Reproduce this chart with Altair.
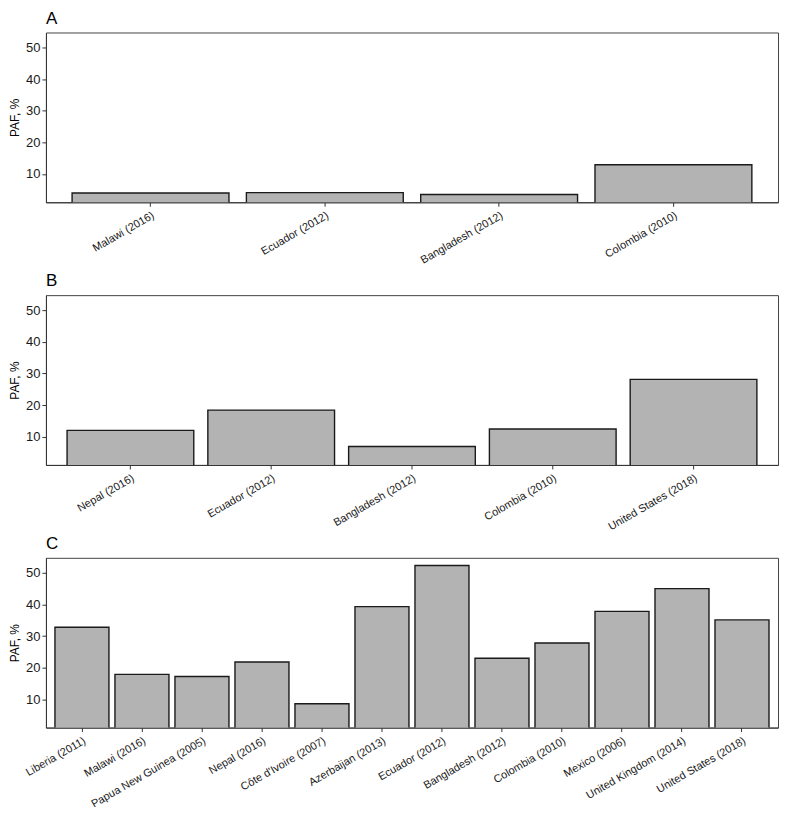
import altair as alt
import pandas as pd

a_countries = ["Malawi (2016)", "Ecuador (2012)", "Bangladesh (2012)", "Colombia (2010)"]
a_values = [4.0, 4.1, 3.5, 12.9]

b_countries = ["Nepal (2016)", "Ecuador (2012)", "Bangladesh (2012)", "Colombia (2010)",
               "United States (2018)"]
b_values = [12.0, 18.4, 6.9, 12.4, 28.1]

c_countries = ["Liberia (2011)", "Malawi (2016)", "Papua New Guinea (2005)", "Nepal (2016)",
               "Côte d'Ivoire (2007)", "Azerbaijan (2013)", "Ecuador (2012)", "Bangladesh (2012)",
               "Colombia (2010)", "Mexico (2006)", "United Kingdom (2014)", "United States (2018)"]
c_values = [32.8, 17.9, 17.2, 21.8, 8.6, 39.3, 52.3, 23.0, 27.8, 37.8, 45.0, 35.1]

y_ticks = [10, 20, 30, 40, 50]
y_domain = [1.06, 54.74]

FONT = "Liberation Sans"


def panel(countries, values, letter):
    df = pd.DataFrame({"country": countries, "paf": values})
    return (
        alt.Chart(
            df,
            title=alt.Title(letter, anchor="start", frame="group", fontSize=17,
                            fontWeight="normal", font=FONT, color="#000000", offset=5),
        )
        .mark_bar(fill="#B3B3B3", stroke="#1a1a1a", strokeWidth=1.4, clip=True)
        .encode(
            x=alt.X("country:N", sort=None, title=None,
                    scale=alt.Scale(paddingInner=0.1, paddingOuter=0.15),
                    axis=alt.Axis(labelAngle=330, labelAlign="right", labelBaseline="top",
                                  labelFontSize=11, labelPadding=3, tickSize=4,
                                  labelColor="#1a1a1a", labelOverlap=False)),
            y=alt.Y("paf:Q", title="PAF, %",
                    scale=alt.Scale(domain=y_domain, zero=False, nice=False),
                    axis=alt.Axis(values=y_ticks, grid=False, labelFontSize=13,
                                  titleFontSize=12, tickSize=4, labelPadding=2,
                                  titlePadding=4, labelColor="#1a1a1a",
                                  titleColor="#000000", titleFontWeight="normal")),
            y2=alt.datum(0),
        )
        .properties(width=733, height=170)
    )


chart = (
    alt.vconcat(
        panel(a_countries, a_values, "A"),
        panel(b_countries, b_values, "B"),
        panel(c_countries, c_values, "C"),
        spacing=93,
        bounds="flush",
    )
    .properties(padding=0)
    .configure_view(stroke="#444444", strokeWidth=1)
    .configure_axis(labelFont=FONT, titleFont=FONT, domainColor="#333333",
                    tickColor="#333333", domainWidth=1)
)

chart.save("out.html", embed_options={"renderer": "svg", "actions": False})
